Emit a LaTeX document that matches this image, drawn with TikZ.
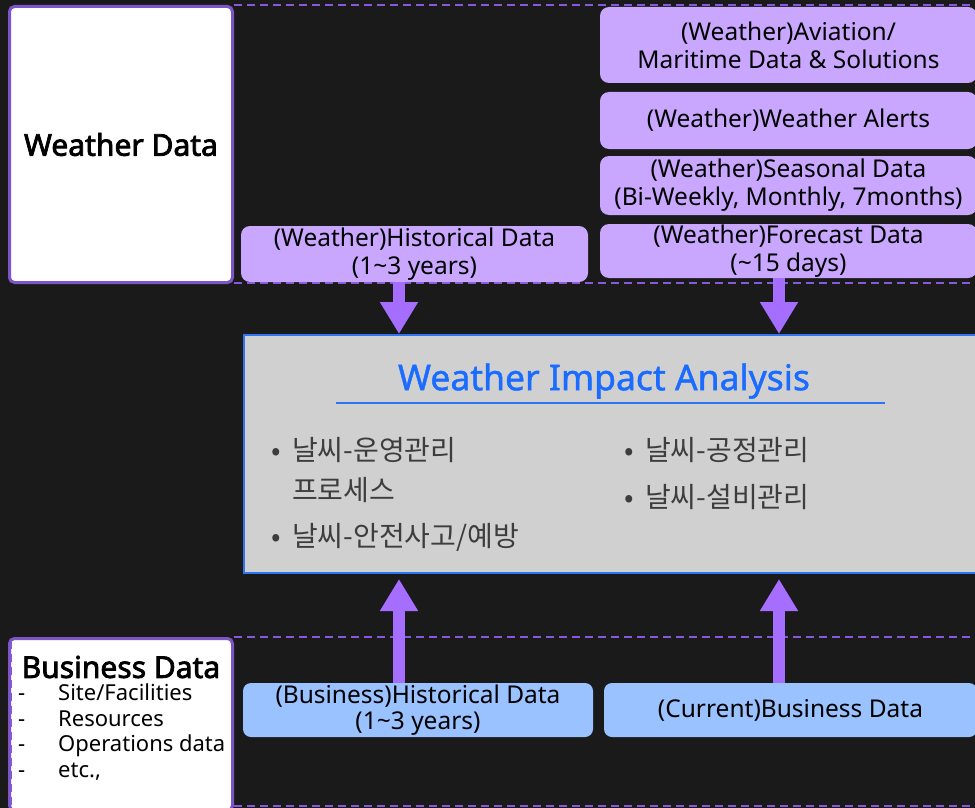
\documentclass[tikz,border=0pt]{standalone}
\usepackage{fontspec}
\setmainfont{Noto Sans}
\newfontfamily\headfont{Noto Sans}[FakeBold=2.5]
\newfontfamily\titlefont{Noto Sans}[FakeBold=1.2]
\newfontfamily\kofont{Noto Sans CJK KR}
\usetikzlibrary{arrows.meta}

\definecolor{bgdark}{HTML}{1A1A1A}
\definecolor{framepurple}{HTML}{7D55C7}
\definecolor{bandpurple}{HTML}{8758DB}
\definecolor{wxpurple}{HTML}{C9A7FF}
\definecolor{flowpurple}{HTML}{A56EFF}
\definecolor{bizblue}{HTML}{99C2FF}
\definecolor{panelgray}{HTML}{D0D0D0}
\definecolor{panelblue}{HTML}{2F74F0}
\definecolor{titleblue}{HTML}{1A6BFF}
\definecolor{itemgray}{HTML}{3D3D3D}

\newcommand\wibullet{\makebox[21pt][l]{\fontsize{28}{28}\selectfont\textbullet}}

\begin{document}
\begin{tikzpicture}[x=1pt,y=-1pt,
    labelbox/.style={fill=white,draw=framepurple,line width=3pt,rounded corners=5pt},
    wxbox/.style={fill=wxpurple,rounded corners=9pt,align=center,inner sep=0pt,
      font=\fontsize{24.5}{28}\selectfont},
    bizbox/.style={fill=bizblue,rounded corners=8pt,align=center,inner sep=0pt,
      font=\fontsize{24.5}{26}\selectfont},
    bandline/.style={draw=bandpurple,line width=2pt,dash pattern=on 8pt off 5pt},
    flow/.style={draw=flowpurple,line width=12pt,-{Triangle[width=36pt,length=32pt]}},
    item/.style={anchor=west,text=itemgray,inner sep=0pt,
      font=\kofont\fontsize{28}{32}\selectfont}]
  \clip (0,0) rectangle (975,808);
  \fill[bgdark] (0,0) rectangle (975,808);

  % bands
  \draw[bandline] (234,5) -- (975,5);
  \draw[bandline] (234,283) -- (975,283);
  \draw[bandline] (234,637) -- (975,637);
  \draw[bandline] (234,806) -- (975,806);

  % weather side
  \node[labelbox,minimum width=223pt,minimum height=276pt,
    font=\headfont\fontsize{30}{32}\selectfont] (wxlabel) at (121,144.5) {Weather Data};
  \node[wxbox,minimum width=377pt,minimum height=76pt] (aviation) at (788.5,45)
    {(Weather)Aviation/\\Maritime Data \& Solutions};
  \node[wxbox,minimum width=377pt,minimum height=57pt] (alerts) at (788.5,120.5)
    {(Weather)Weather Alerts};
  \node[wxbox,minimum width=377pt,minimum height=59pt] (seasonal) at (788.5,185.5)
    {(Weather)Seasonal Data\\(Bi-Weekly, Monthly, 7months)};
  \node[wxbox,minimum width=377pt,minimum height=54pt] (forecast) at (788.5,251)
    {(Weather)Forecast Data\\(\textasciitilde15 days)};
  \node[wxbox,minimum width=347pt,minimum height=56pt] (wxhist) at (414.5,254)
    {(Weather)Historical Data\\(1\textasciitilde3 years)};

  % analysis panel
  \node[fill=panelgray,draw=panelblue,line width=2pt,minimum width=746pt,
    minimum height=238pt] (panel) at (617,454) {};
  \node[text=titleblue,font=\titlefont\fontsize{35.5}{38}\selectfont] (paneltitle) at (604,381)
    {Weather Impact Analysis};
  \draw[panelblue,line width=1.2pt] (336,403) -- (885,403);
  \node[item] (opsitem) at (271,450) {\wibullet 날씨-운영관리};
  \node[item] (opsitemb) at (292,490) {프로세스};
  \node[item] (safeitem) at (271,537) {\wibullet 날씨-안전사고/예방};
  \node[item] (procitem) at (624,450) {\wibullet 날씨-공정관리};
  \node[item] (equipitem) at (624,497) {\wibullet 날씨-설비관리};

  % business side
  \node[labelbox,minimum width=223pt,minimum height=172pt] (bizlabel) at (121,724.5) {};
  \draw[bandline] ([xshift=3pt,yshift=-4pt]bizlabel.north west) -- ([xshift=3pt]bizlabel.south west);
  \node[font=\headfont\fontsize{30}{32}\selectfont] (biztitle) at (121,667) {Business Data};
  \node[anchor=north west,align=left,inner sep=0pt,
    font=\fontsize{22}{25.5}\selectfont] (bizlist) at (18,684)
    {\makebox[40pt][l]{-}Site/Facilities\\
     \makebox[40pt][l]{-}Resources\\
     \makebox[40pt][l]{-}Operations data\\
     \makebox[40pt][l]{-}etc.,};
  \node[bizbox,minimum width=350pt,minimum height=54pt] (bizhist) at (418,710)
    {(Business)Historical Data\\(1\textasciitilde3 years)};
  \node[bizbox,minimum width=373pt,minimum height=54pt] (bizcurrent) at (790.5,710)
    {(Current)Business Data};

  % flows
  \draw[flow] ([xshift=-15.5pt]wxhist.south) -- ([xshift=-15.5pt]wxhist.south |- panel.north);
  \draw[flow] ([xshift=-9.5pt]forecast.south) -- ([xshift=-9.5pt]forecast.south |- panel.north);
  \draw[flow,shorten >=5pt] ([xshift=-19pt]bizhist.north) -- ([xshift=-19pt]bizhist.north |- panel.south);
  \draw[flow,shorten >=5pt] ([xshift=-11.5pt]bizcurrent.north) -- ([xshift=-11.5pt]bizcurrent.north |- panel.south);
\end{tikzpicture}
\end{document}
